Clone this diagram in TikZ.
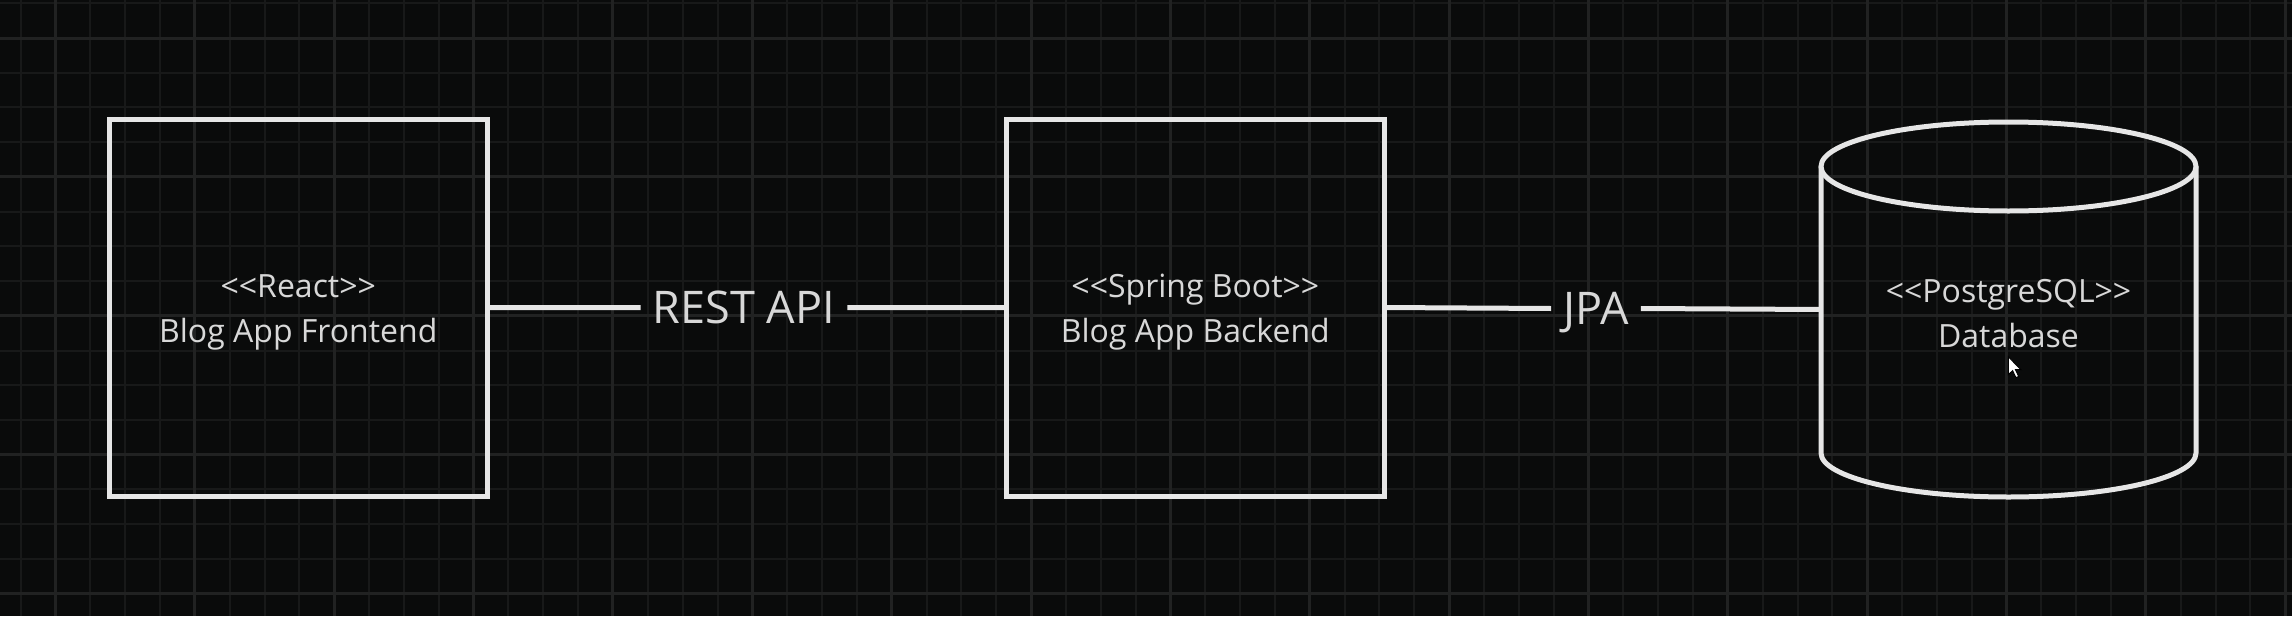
\documentclass[tikz,border=0pt]{standalone}
\usepackage{fontspec}
\setmainfont{Open Sans}
\definecolor{bg}{HTML}{0A0B0B}
\definecolor{gridminor}{HTML}{181919}
\definecolor{gridmajor}{HTML}{212222}
\definecolor{ink}{HTML}{E6E6E6}
\definecolor{txt}{HTML}{D8D8D8}
\newcommand\dblopen{<\kern0pt<}
\newcommand\dblclose{>\kern0pt>}
\begin{document}
\begin{tikzpicture}[x=1pt,y=1pt,
  shapeline/.style={draw=ink, line width=5pt},
  boxnode/.style={shapeline, minimum width=377.5pt, minimum height=377pt, inner sep=0pt, outer sep=0pt},
  dbframe/.style={minimum width=375pt, minimum height=375pt, inner sep=0pt, outer sep=0pt},
  boxtext/.style={text=txt, font=\fontsize{32}{45}\selectfont, align=center, inner sep=0pt},
  conlabel/.style={text=txt, font=\fontsize{45}{54}\selectfont, inner xsep=12pt, inner ysep=0pt, text depth=0pt},
  connector/.style={draw=ink, line width=5pt},
  minorline/.style={draw=gridminor, line width=2pt},
  majorline/.style={draw=gridmajor, line width=3pt}
]
\useasboundingbox (0,0) rectangle (2292,-616);
\fill[bg] (0,0) rectangle (2292,-616);
% grid
\foreach \k in {0,...,65} {
  \pgfmathsetmacro\xx{20.7+34.84*\k}
  \draw[minorline] (\xx,0) -- (\xx,-616);
}
\foreach \k in {0,...,17} {
  \pgfmathsetmacro\yy{3.3+34.72*\k}
  \draw[minorline] (0,-\yy) -- (2292,-\yy);
}
\foreach \k in {1,5,...,65} {
  \pgfmathsetmacro\xx{20.7+34.84*\k}
  \draw[majorline] (\xx,0) -- (\xx,-616);
}
\foreach \k in {1,5,...,17} {
  \pgfmathsetmacro\yy{3.3+34.72*\k}
  \draw[majorline] (0,-\yy) -- (2292,-\yy);
}
% boxes
\node[boxnode] (box1) at (298.25,-307.5) {};
\node[boxnode] (box2) at (1195.3,-307.5) {};
\node[boxtext] (box1text) at ([yshift=-4.5pt]box1.center) {\dblopen React\dblclose\\Blog App Frontend};
\node[boxtext] (box2text) at ([yshift=-4.5pt]box2.center) {\dblopen Spring Boot\dblclose\\Blog App Backend};
% database cylinder
\node[dbframe] (db) at (2008.5,-309.5) {};
\draw[shapeline] (1821,-166.5) -- (1821,-453) arc[start angle=180, end angle=360, x radius=187.5, y radius=44] -- (2196,-166.5);
\draw[shapeline] (2008.5,-166.5) ellipse [x radius=187.5, y radius=44.5];
\node[boxtext] (dbtext) at ([yshift=-4.5pt]db.center) {\dblopen PostgreSQL\dblclose\\Database};
% connector labels
\node[conlabel] (rest) at (744,-307.7) {REST API};
\node[conlabel] (jpa) at (1596,-308.5) {JPA};
\draw[connector] (box1.east) -- (rest.west);
\draw[connector] (rest.east) -- (box2.west);
\draw[connector] (box2.east) -- (jpa.west);
\draw[connector] (jpa.east) -- (db.west);
% mouse pointer
\coordinate (cursor) at (2008.3,-356.7);
\filldraw[fill=white, draw=black, line width=1pt, shift={(cursor)}]
  (0,0) -- (0,-18) -- (4.3,-14) -- (7.6,-21) -- (10.4,-19.8) -- (7.2,-13) -- (12.6,-13) -- cycle;
\end{tikzpicture}
\end{document}
